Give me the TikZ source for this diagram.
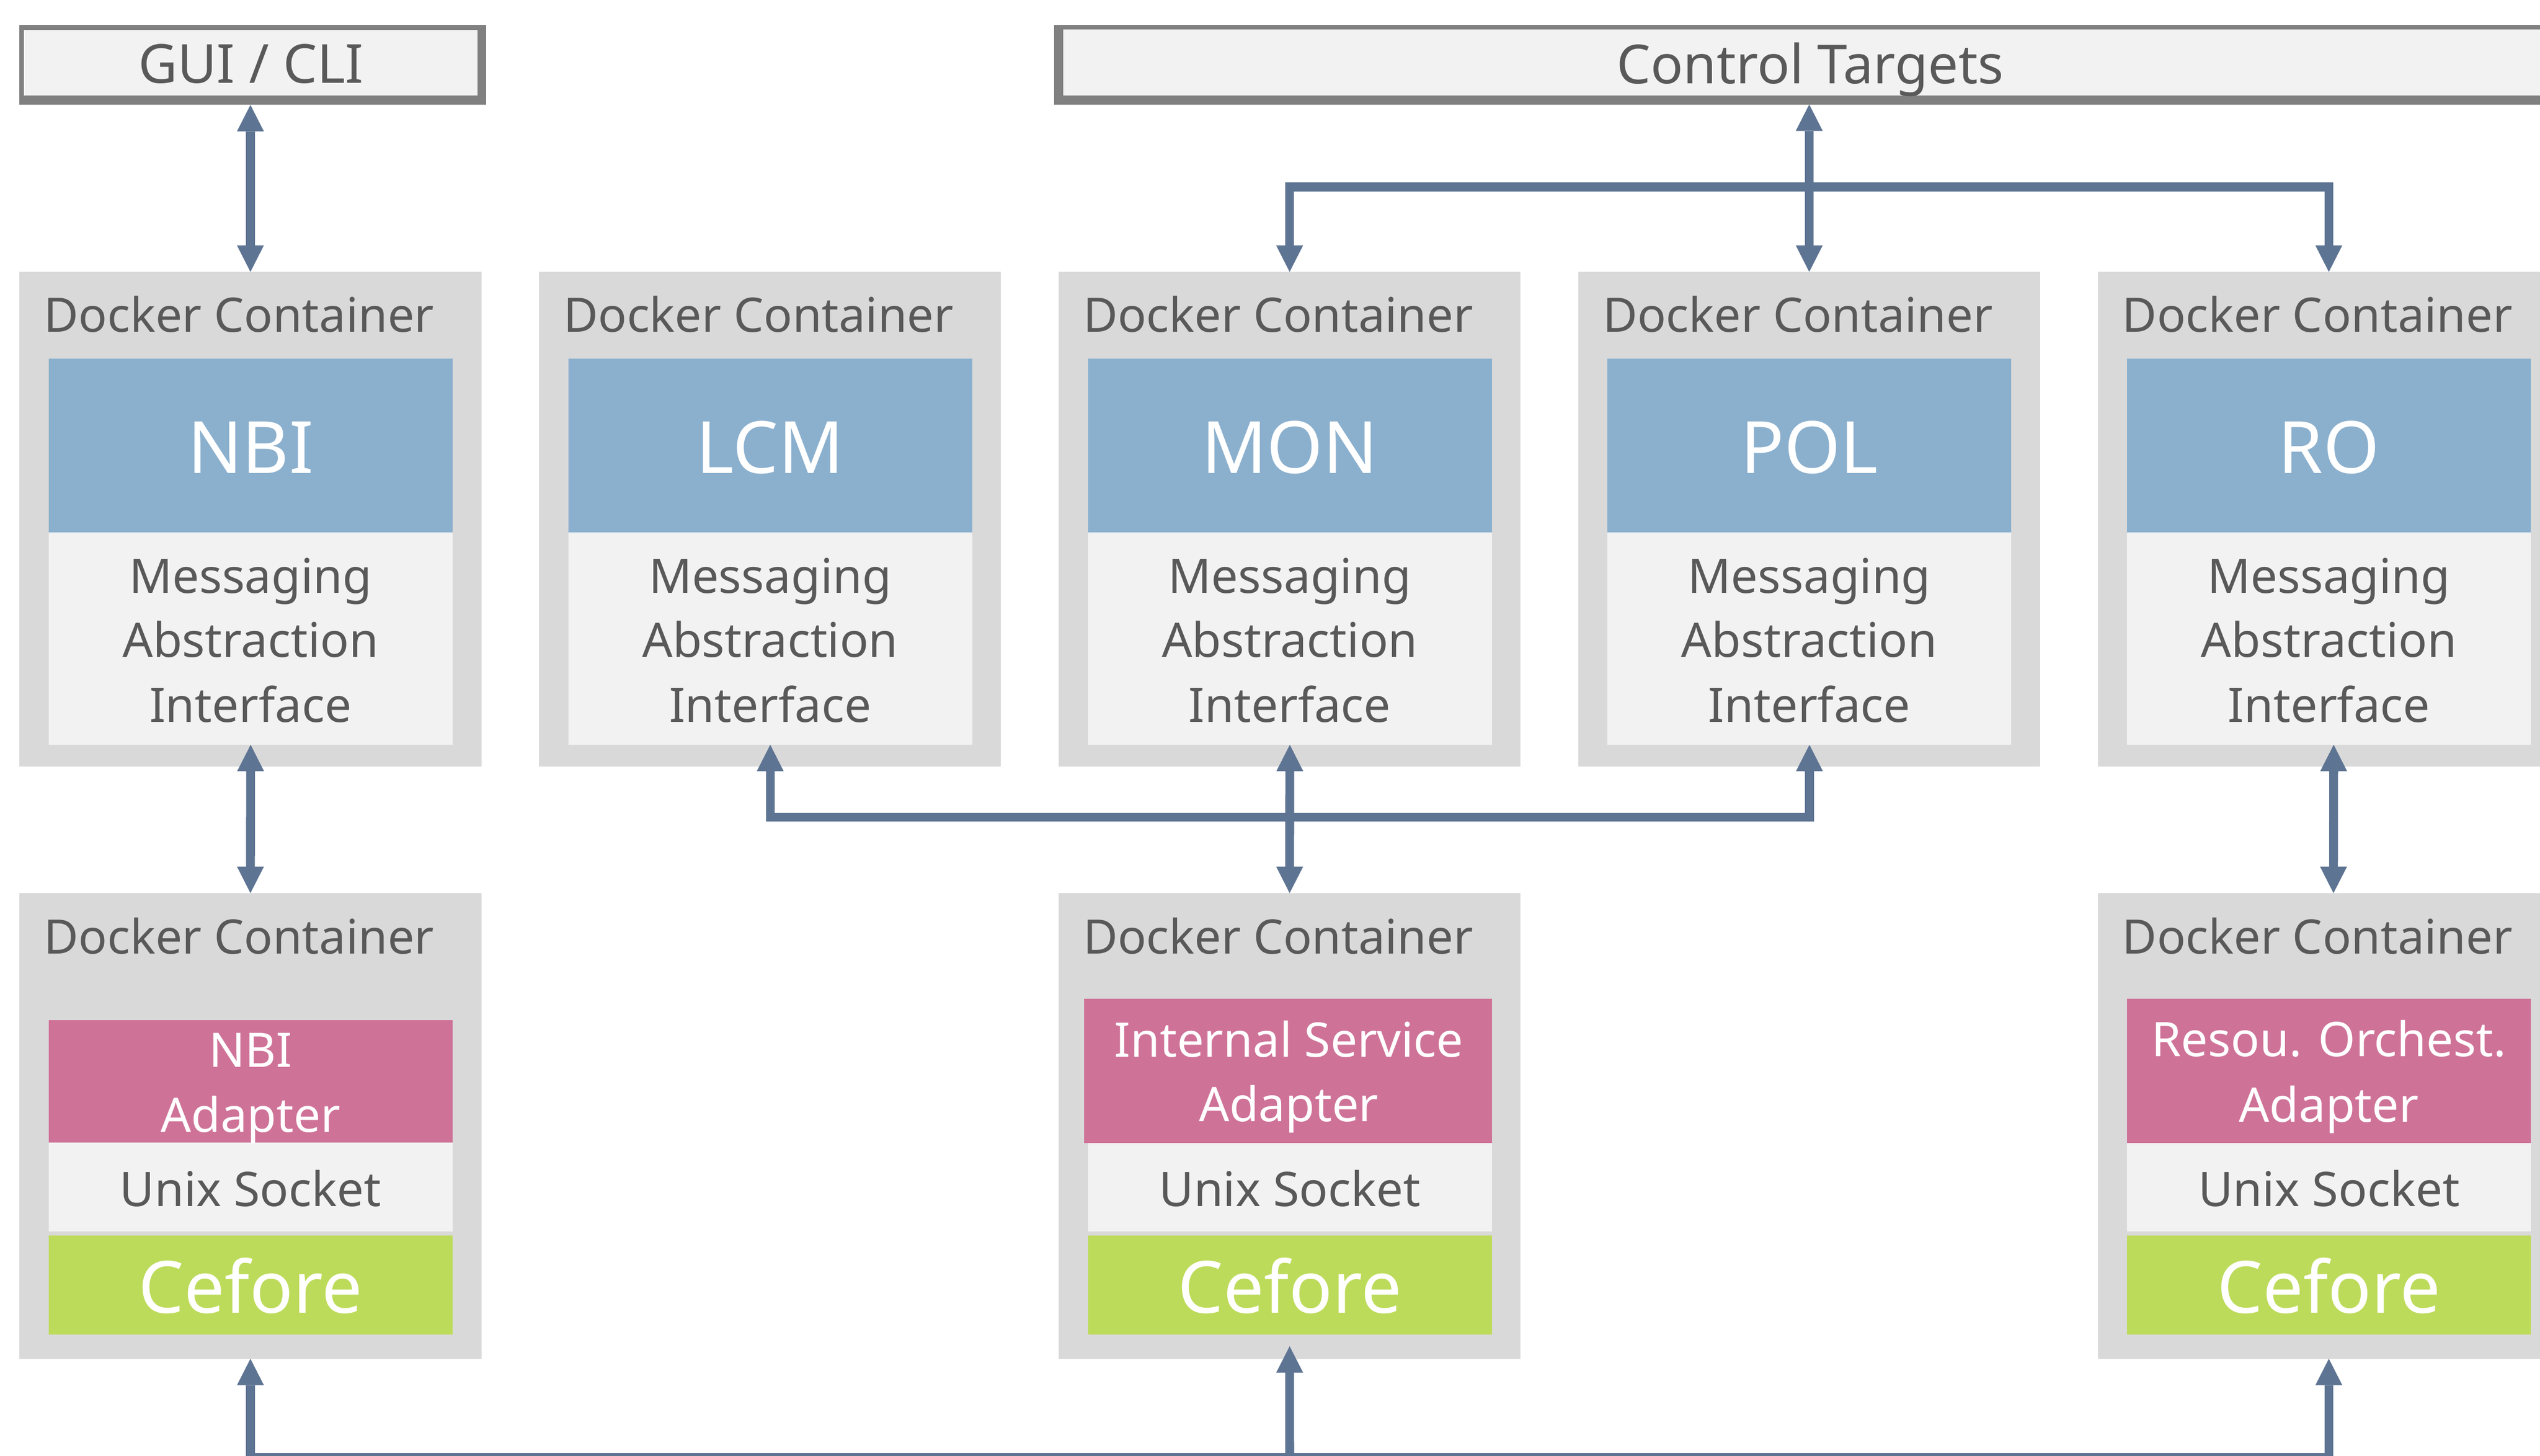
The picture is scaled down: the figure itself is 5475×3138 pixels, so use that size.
\documentclass[tikz,border=0pt]{standalone}
\usepackage{fontspec}
\setmainfont{Noto Sans}
\usetikzlibrary{arrows.meta}
\definecolor{contgray}{HTML}{D9D9D9}
\definecolor{lightbox}{HTML}{F2F2F2}
\definecolor{bluebox}{HTML}{8BB0CE}
\definecolor{pinkbox}{HTML}{CF7298}
\definecolor{greenbox}{HTML}{BDDB5A}
\definecolor{txtgray}{HTML}{595959}
\definecolor{arrowblue}{HTML}{5E7493}
\definecolor{bordergray}{HTML}{808080}
\begin{document}
\begin{tikzpicture}[x=0.01cm, y=-0.01cm,
  rect/.style={draw=none, inner sep=0pt, outer sep=0pt, anchor=north west},
  contbox/.style={rect, fill=contgray, minimum width=9.95cm},
  layer/.style={rect, minimum width=8.70cm},
  dctext/.style={inner sep=0pt, anchor=base west, text=txtgray, font=\fontsize{29.1}{35}\selectfont},
  titletext/.style={inner sep=0pt, anchor=base, text=txtgray, font=\fontsize{33}{39}\selectfont},
  bigtext/.style={inner sep=0pt, anchor=base, text=white, font=\fontsize{44.2}{50}\selectfont},
  midtext/.style={inner sep=0pt, anchor=base, text=txtgray, font=\fontsize{29.2}{35}\selectfont},
  adtext/.style={inner sep=0pt, anchor=base, text=white, font=\fontsize{29.2}{35}\selectfont},
  conn/.style={draw=arrowblue, line width=0.19cm, line join=miter},
  tipend/.style={conn, -{Triangle[width=0.58cm, length=0.57cm, line width=0pt]}},
  tipboth/.style={conn, {Triangle[width=0.58cm, length=0.57cm, line width=0pt]}-{Triangle[width=0.58cm, length=0.57cm, line width=0pt]}}
]
\useasboundingbox (0,0) rectangle (5475,3138);
\clip (0,0) rectangle (5475,3138);

% ---------- top boxes ----------
\node[rect, fill=bordergray, minimum width=10.05cm, minimum height=1.72cm] (gui) at (42,54) {};
\node[rect, fill=lightbox, minimum width=9.77cm, minimum height=1.41cm] (guiin) at (52,65) {};
\node[titletext] (guilab) at (541,179) {GUI / CLI};

\node[rect, fill=bordergray, minimum width=33.28cm, minimum height=1.71cm] (ct) at (2272,54) {};
\node[rect, fill=lightbox, minimum width=33.08cm, minimum height=1.42cm] (ctin) at (2292,64) {};
\node[titletext] (ctlab) at (3902,180) {Control Targets};

% ---------- upper row of containers ----------
\foreach \n/\lab [count=\i from 0] in {nbi/NBI, lcm/LCM, mon/MON, pol/POL, ro/RO} {
  \pgfmathsetmacro\xx{42+1120*\i}
  \node[contbox, minimum height=10.66cm] (\n-c) at (\xx,586) {};
  \node[layer, fill=bluebox, minimum height=3.74cm] (\n-core) at (\xx+63,773) {};
  \node[layer, fill=lightbox, minimum height=4.58cm] (\n-msg) at (\xx+63,1147) {};
  \node[dctext] (\n-dc) at (\xx+52,716) {Docker Container};
  \node[bigtext] (\n-lab) at (\xx+498,1020) {\lab};
  \node[midtext] (\n-m1) at (\xx+498,1278) {Messaging};
  \node[midtext] (\n-m2) at (\xx+498,1416) {Abstraction};
  \node[midtext] (\n-m3) at (\xx+498,1557) {Interface};
}

% ---------- lower row of containers ----------
\foreach \n/\i in {nbi/0, mon/2, ro/4} {
  \pgfmathsetmacro\xx{42+1120*\i}
  \node[contbox, minimum height=10.03cm] (\n-b) at (\xx,1925) {};
  \node[dctext] (\n-bdc) at (\xx+52,2056) {Docker Container};
  \node[layer, fill=lightbox, minimum height=1.91cm] (\n-unix) at (\xx+63,2463) {};
  \node[midtext] (\n-unixlab) at (\xx+498,2600) {Unix Socket};
  \node[layer, fill=greenbox, minimum height=2.13cm] (\n-cef) at (\xx+63,2663) {};
  \node[bigtext] (\n-ceflab) at (\xx+498,2830) {Cefore};
}
\node[layer, fill=pinkbox, minimum height=2.64cm] (nbi-ad) at (105,2199) {};
\node[adtext] (nbi-ad1) at (540,2300) {NBI};
\node[adtext] (nbi-ad2) at (540,2440) {Adapter};
\node[rect, fill=pinkbox, minimum width=8.78cm, minimum height=3.10cm] (mon-ad) at (2337,2153) {};
\node[adtext] (mon-ad1) at (2778,2278) {Internal Service};
\node[adtext] (mon-ad2) at (2778,2417) {Adapter};
\node[layer, fill=pinkbox, minimum height=3.11cm] (ro-ad) at (4585,2153) {};
\node[adtext] (ro-ad1) at (5020,2277) {Resou. Orchest.};
\node[adtext] (ro-ad2) at (5020,2418) {Adapter};

% ---------- connectors ----------
\draw[tipboth] (nbi-c.north |- gui.south) -- (nbi-c.north);

\coordinate (ctj) at (3900,403);
\draw[tipboth] (pol-c.north |- ct.south) -- (pol-c.north);
\draw[tipend] (ctj) -| (mon-c.north);
\draw[tipend] (ctj) -| (ro-c.north);

\coordinate (mj) at (2780,1761);
\draw[tipend] (mj) -| (lcm-msg.south);
\draw[tipend] (mj) -| (pol-msg.south);
\draw[tipboth] (mon-msg.south) -- (mon-b.north);

\draw[tipboth] (nbi-msg.south) -- (nbi-b.north);
\draw[tipboth] ([xshift=0.1cm]ro-msg.south) -- ([xshift=0.1cm]ro-b.north);

\coordinate (bj) at (2780,3141);
\draw[tipend] (bj) -| (nbi-b.south);
\draw[tipend] (bj) -| (ro-b.south);
\draw[tipend] (bj) -- ([yshift=0.27cm]mon-b.south);
\end{tikzpicture}
\end{document}
